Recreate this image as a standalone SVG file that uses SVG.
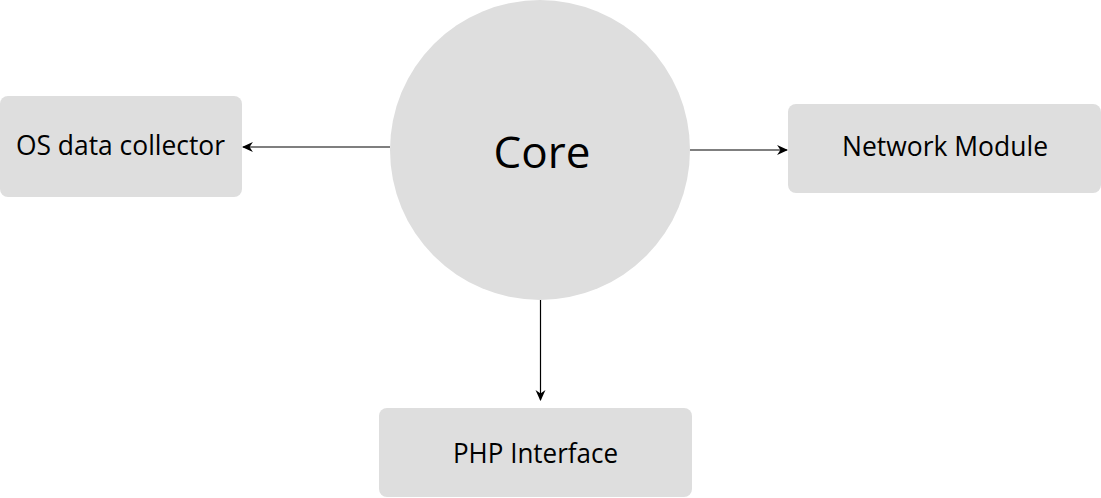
<svg xmlns="http://www.w3.org/2000/svg" width="1101" height="498" viewBox="0 0 1101 498">
<style>
.n{fill:#dedede}
.t{font-family:"Open Sans","Liberation Sans",sans-serif;fill:#000;text-anchor:middle}
.c{stroke:#000;stroke-width:1.2;fill:none}
</style>
<defs>
<marker id="a" viewBox="0 0 10 10" refX="9" refY="5" markerWidth="11" markerHeight="11" markerUnits="userSpaceOnUse" orient="auto">
<path d="M0,0.5 L10,5 L0,9.5 L3,5 Z" fill="#000"/>
</marker>
</defs>
<rect width="1101" height="498" fill="#fff"/>
<g id="core"><circle class="n" cx="540" cy="150" r="150"/><text class="t" x="542" y="168" font-size="44">Core</text></g>
<g id="os"><rect class="n" x="0" y="96" width="242" height="101" rx="8"/><text class="t" x="120.5" y="155" font-size="26.5" textLength="209" lengthAdjust="spacingAndGlyphs">OS data collector</text></g>
<g id="net"><rect class="n" x="788" y="104" width="313" height="89" rx="8"/><text class="t" x="945" y="156" font-size="26.5" textLength="206" lengthAdjust="spacingAndGlyphs">Network Module</text></g>
<g id="php"><rect class="n" x="379" y="408" width="313" height="89" rx="8"/><text class="t" x="535.5" y="463" font-size="26.5" textLength="165" lengthAdjust="spacingAndGlyphs">PHP Interface</text></g>
<g id="connectors">
<line class="c" x1="390" y1="147" x2="243" y2="147" marker-end="url(#a)"/>
<line class="c" x1="690" y1="150" x2="787" y2="150" marker-end="url(#a)"/>
<line class="c" x1="540.5" y1="300" x2="540.5" y2="400" marker-end="url(#a)"/>
</g>
</svg>
